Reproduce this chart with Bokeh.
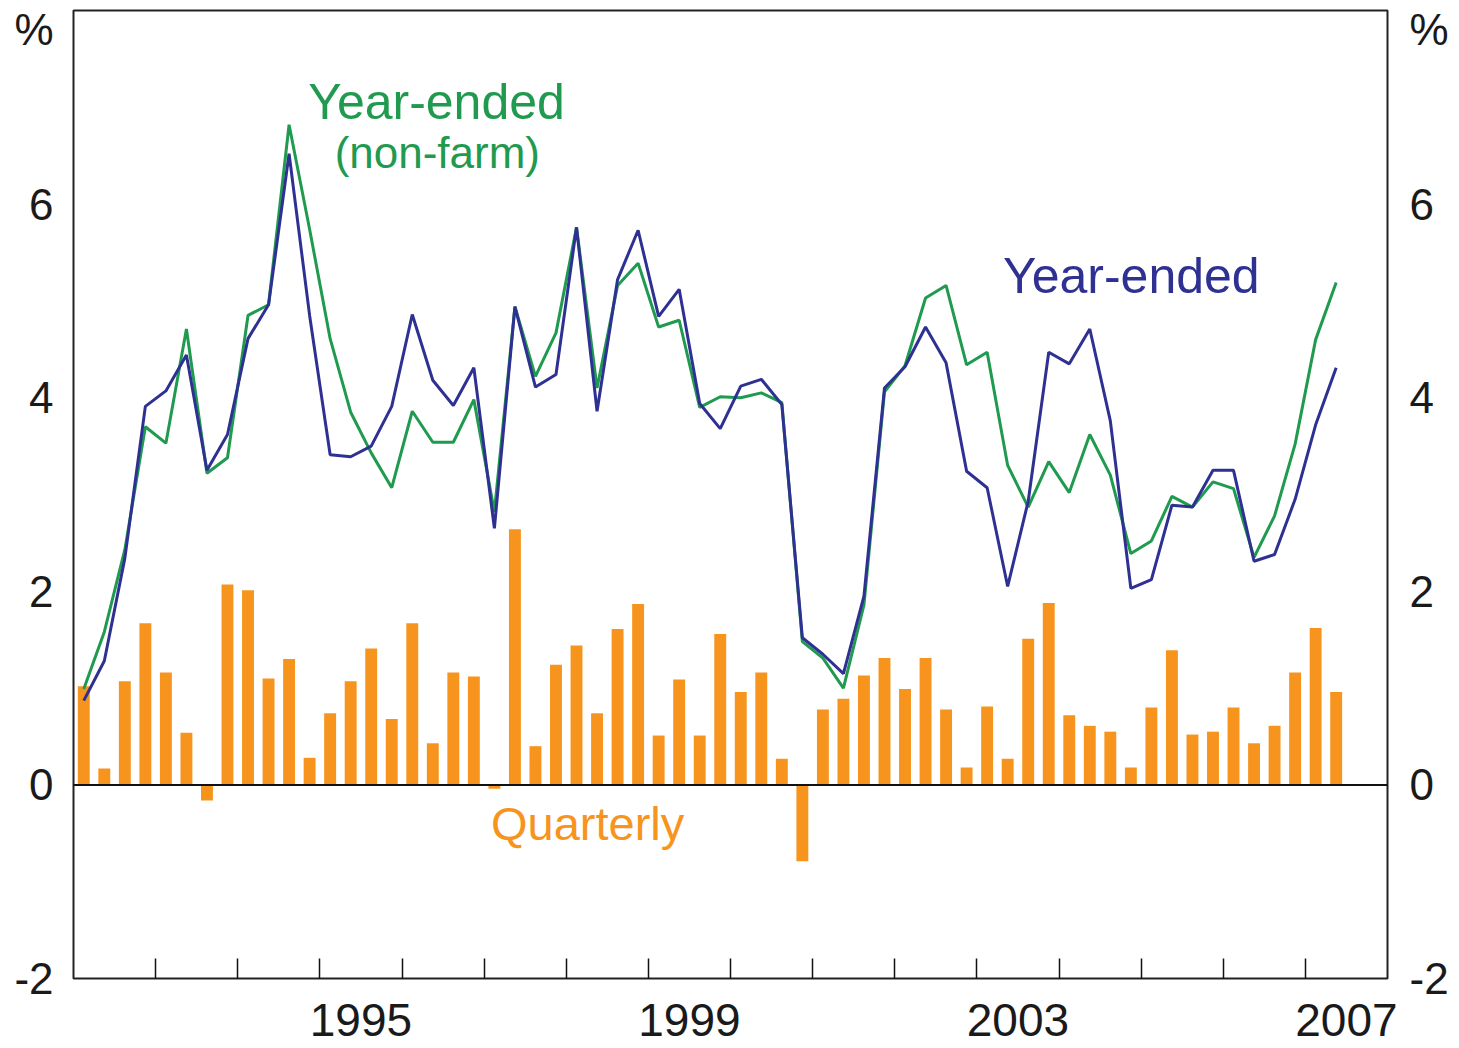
from bokeh.plotting import figure
from bokeh.models import Range1d, FixedTicker, LinearAxis, Span, ColumnDataSource
from bokeh.core.properties import value
from bokeh.embed import file_html
from bokeh.resources import INLINE

# ---- data -------------------------------------------------------------
quarters = [f"{y}Q{q}" for y in range(1992, 2008) for q in range(1, 5)][:62]  # 1992Q1 .. 2007Q2

quarterly = [1.02, 0.17, 1.07, 1.67, 1.16, 0.54, -0.16, 2.07, 2.01, 1.10,
             1.30, 0.28, 0.74, 1.07, 1.41, 0.68, 1.67, 0.43, 1.16, 1.12,
             -0.04, 2.64, 0.40, 1.24, 1.44, 0.74, 1.61, 1.87, 0.51, 1.09,
             0.51, 1.56, 0.96, 1.16, 0.27, -0.79, 0.78, 0.89, 1.13, 1.31,
             0.99, 1.31, 0.78, 0.18, 0.81, 0.27, 1.51, 1.88, 0.72, 0.61,
             0.55, 0.18, 0.80, 1.39, 0.52, 0.55, 0.80, 0.43, 0.61, 1.16,
             1.62, 0.96]

year_ended = [0.87, 1.28, 2.34, 3.91, 4.07, 4.44, 3.25, 3.62, 4.61, 4.96,
              6.52, 4.85, 3.41, 3.39, 3.50, 3.91, 4.86, 4.18, 3.92, 4.31,
              2.65, 4.94, 4.11, 4.24, 5.76, 3.86, 5.22, 5.73, 4.84, 5.12,
              3.94, 3.68, 4.12, 4.19, 3.93, 1.52, 1.35, 1.15, 1.95, 4.10,
              4.32, 4.73, 4.36, 3.24, 3.07, 2.05, 2.93, 4.47, 4.35, 4.71,
              3.76, 2.03, 2.12, 2.89, 2.87, 3.25, 3.25, 2.31, 2.38, 2.95,
              3.72, 4.31]

year_ended_nonfarm = [0.99, 1.58, 2.43, 3.70, 3.53, 4.71, 3.22, 3.38, 4.85, 4.96,
                      6.82, 5.74, 4.61, 3.85, 3.43, 3.07, 3.86, 3.54, 3.54, 3.98,
                      2.82, 4.94, 4.22, 4.67, 5.76, 4.10, 5.16, 5.39, 4.73, 4.80,
                      3.90, 4.01, 4.00, 4.05, 3.95, 1.48, 1.31, 1.00, 1.86, 4.06,
                      4.33, 5.03, 5.16, 4.34, 4.47, 3.30, 2.87, 3.34, 3.02, 3.62,
                      3.20, 2.39, 2.52, 2.98, 2.87, 3.13, 3.06, 2.35, 2.78, 3.52,
                      4.60, 5.19]

year_labels = ["1995", "1999", "2003", "2007"]
y_tick_values = [-2, 0, 2, 4, 6]

# ---- derived positions ---------------------------------------------
x = [int(s[:4]) + (int(s[-1]) - 0.5) / 4 for s in quarters]
src = ColumnDataSource(dict(x=x, q=quarterly, ye=year_ended, nf=year_ended_nonfarm))

GREEN = "#1f9a4f"
BLUE = "#2e3192"
ORANGE = "#f7941d"
FONT = "Liberation Sans"

p = figure(frame_width=1314, frame_height=968, output_backend="svg",
           toolbar_location=None, x_range=Range1d(1992, 2008), y_range=Range1d(-2, 8),
           min_border_left=73, min_border_right=60, min_border_top=10, min_border_bottom=66,
           x_axis_type=None, y_axis_type=None)
p.background_fill_color = "white"
p.border_fill_color = "white"
p.outline_line_color = "#222222"
p.outline_line_width = 2

# grid
p.ygrid.ticker = FixedTicker(ticks=[2, 4, 6])
p.ygrid.grid_line_color = "#aeb6c2"
p.ygrid.grid_line_width = 1.5
p.xgrid.grid_line_color = None

# bars and lines
p.vbar(x="x", top="q", bottom=0, width=0.145, source=src, color=ORANGE, line_color=None)
p.add_layout(Span(location=0, dimension="width", line_color="#111111", line_width=2))
p.line("x", "nf", source=src, line_color=GREEN, line_width=3)
p.line("x", "ye", source=src, line_color=BLUE, line_width=3)

# x axis
xt_major = [int(s) + 0.5 for s in year_labels]
xt_minor = list(range(1993, 2008))
xaxis = LinearAxis(ticker=FixedTicker(ticks=xt_major, minor_ticks=xt_minor),
                   major_label_overrides={t: s for t, s in zip(xt_major, year_labels)})
xaxis.axis_line_color = None
xaxis.major_tick_line_color = None
xaxis.minor_tick_in = 20
xaxis.minor_tick_out = 0
xaxis.minor_tick_line_color = "#111111"
xaxis.minor_tick_line_width = 1.5
xaxis.major_label_text_font = FONT
xaxis.major_label_text_font_size = "46px"
xaxis.major_label_text_color = "#1a1a1a"
xaxis.major_label_standoff = 19
p.add_layout(xaxis, "below")

# y axes (left and right) with "%" unit label at top
PCT_POS = 7.8
y_ticks = y_tick_values + [PCT_POS]
overrides = {t: str(t) for t in y_tick_values}
overrides[PCT_POS] = "%"
for side in ("left", "right"):
    ax = LinearAxis(ticker=FixedTicker(ticks=y_ticks), major_label_overrides=overrides)
    ax.axis_line_color = None
    ax.major_tick_line_color = None
    ax.minor_tick_line_color = None
    ax.major_label_text_font = FONT
    ax.major_label_text_font_size = "44px"
    ax.major_label_text_color = "#1a1a1a"
    ax.major_label_standoff = 14 if side == "left" else 16
    p.add_layout(ax, side)

# annotations
p.text(x=[1996.42], y=[7.05], text=["Year-ended"], text_color=GREEN,
       text_font=value(FONT), text_font_size="50px", text_align="center",
       text_baseline="alphabetic")
p.text(x=[1996.43], y=[6.53], text=["(non-farm)"], text_color=GREEN,
       text_font=value(FONT), text_font_size="44px", text_align="center",
       text_baseline="alphabetic")
p.text(x=[2004.88], y=[5.26], text=["Year-ended"], text_color=BLUE,
       text_font=value(FONT), text_font_size="50px", text_align="center",
       text_baseline="alphabetic")
p.text(x=[1998.26], y=[-0.4], text=["Quarterly"], text_color=ORANGE,
       text_font=value(FONT), text_font_size="47px", text_align="center",
       text_baseline="alphabetic")

open("out.html", "w").write(file_html(p, INLINE))
